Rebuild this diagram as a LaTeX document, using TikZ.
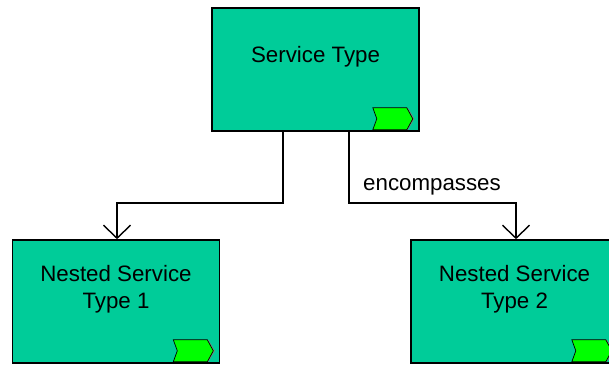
\documentclass[tikz,border=0pt]{standalone}
\usepackage{fontspec}
\setmainfont{Liberation Sans}
\usetikzlibrary{arrows.meta}
\definecolor{boxgreen}{RGB}{0,204,153}
\definecolor{taggreen}{RGB}{0,255,0}
\tikzset{
  servicebox/.style={draw, line width=1.6pt, fill=boxgreen, minimum width=207pt, minimum height=123pt,
    inner sep=0pt, align=center, font=\fontsize{22.3}{27}\selectfont},
  link/.style={line width=1.4pt, -{Straight Barb[length=13pt,width=27pt,line width=1.4pt]}},
}
\begin{document}
\begin{tikzpicture}[x=1pt,y=1pt]
      \useasboundingbox (0,0) rectangle (609,365);
      \node[servicebox] (service) at (315.5,295.5) {Service Type\\[4pt]\mbox{}};
      \node[servicebox] (nested1) at (116,63.5) {Nested Service\\[-0.5pt]Type 1\\[2pt]\mbox{}};
      \node[servicebox] (nested2) at (514.5,63.5) {Nested Service\\[-0.5pt]Type 2\\[2pt]\mbox{}};
      \node[font=\fontsize{22.3}{27}\selectfont] (encompasses) at (432,178.5) {encompasses};
      \foreach \boxname in {service,nested1,nested2} {
        \begin{scope}[shift={(\boxname.south east)}]
          \fill[gray] (-45,2) -- (-12,2) -- (-5.5,13) -- (-12,24) -- (-45,24) -- (-41,13) -- cycle;
          \draw[fill=taggreen, line width=0.7pt] (-47,2) -- (-13,2) -- (-7,13) -- (-13,24) -- (-47,24) -- (-43,13) -- cycle;
        \end{scope}
      }
      \draw[link] ([xshift=-32.5pt]service.south) -- ++(0,-71) -| ([xshift=1pt]nested1.north);
      \draw[link] ([xshift=33.5pt]service.south) -- ++(0,-71) -| ([xshift=1.5pt]nested2.north);
    \end{tikzpicture}
\end{document}
